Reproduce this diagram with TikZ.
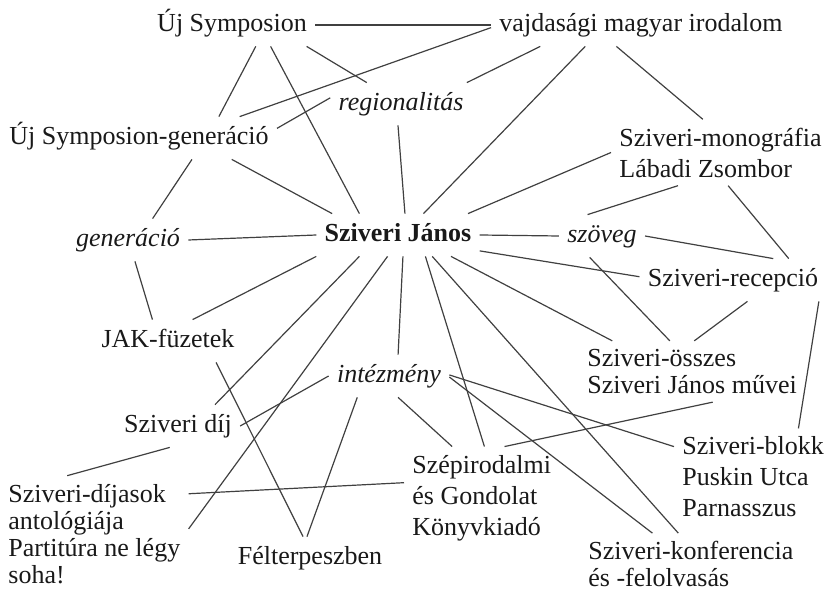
\documentclass[tikz,border=0pt]{standalone}
\usepackage{fontspec}
\setmainfont{Liberation Serif}

\begin{document}
\begin{tikzpicture}[x=0.5pt, y=-0.5pt,
  every node/.style={inner sep=4pt, text=black!90,
                     font=\fontsize{13}{15.5}\selectfont},
  term/.style={text height=10pt, text depth=3pt},
  topic/.style={term, font=\fontsize{13}{15.5}\selectfont\itshape},
  hub/.style={term, font=\fontsize{13}{15.5}\selectfont\bfseries},
  block/.style={align=left, anchor=west},
  tight/.style={block, font=\fontsize{13}{13.5}\selectfont},
  link/.style={black!75, line width=0.6pt}]
\useasboundingbox (0,0) rectangle (825,592);

\node[term] (ujs) at (232,25) {Új Symposion};
\node[term] (vmi) at (641,25) {vajdasági magyar irodalom};
\node[topic] (reg) at (401,104) {regionalitás};
\node[term] (ujsg) at (139,138) {Új Symposion-generáció};
\node[block] (mono) at (611,152.5) {Sziveri-monográfia\\Lábadi Zsombor};
\node[hub] (szj) at (398,235) {Sziveri János};
\node[topic] (gen) at (128,240) {generáció};
\node[topic] (szov) at (602,236) {szöveg};
\node[term] (rec) at (733,280) {Sziveri-recepció};
\node[term] (jak) at (168,341) {JAK-füzetek};
\node[tight] (ossz) at (579,371.5) {Sziveri-összes\\Sziveri János művei};
\node[topic] (int) at (389,376) {intézmény};
\node[term] (dij) at (178,426) {Sziveri díj};
\node[block] (blokk) at (674,477) {Sziveri-blokk\\Puskin Utca\\Parnasszus};
\node[block] (szep) at (404,497.8) {Szépirodalmi\\és Gondolat\\Könyvkiadó};
\node[tight] (dijas) at (0,533.8) {Sziveri-díjasok\\antológiája\\Partitúra ne légy\\soha!};
\node[term] (felt) at (310,558) {Félterpeszben};
\node[tight] (konf) at (580,564.3) {Sziveri-konferencia\\és -felolvasás};

% top row
\draw[link] (ujs.east) -- (vmi.west);
\draw[link] (ujs.-16) -- (reg.148);
\draw[link] (ujs.-42) -- (ujsg.15);
\draw[link] (ujs.-29) -- (szj.151);
\draw[link] (vmi.181) -- (ujsg.12);
\draw[link] (vmi.192) -- (reg.18);
\draw[link] (vmi.201) -- (szj.40);
\draw[link] (vmi.221) -- (mono.118);
\draw[link] (reg.175) -- (ujsg.4);
\draw[link] (reg.262) -- (szj.72);
\draw[link] (ujsg.-13) -- (szj.162);
\draw[link] (ujsg.-22) -- (gen.41);

% middle
\draw[link] (gen.east) -- (szj.west);
\draw[link] (gen.-72) -- (jak.126);
\draw[link] (szj.17) -- (mono.west);
\draw[link] (szj.east) -- (szov.west);
\draw[link] (szov.124) -- (mono.218);
\draw[link] (szov.east) -- (rec.28);
\draw[link] (mono.-77) -- (rec.21);
\draw[link] (szj.-11) -- (rec.178);
\draw[link] (szov.240) -- (ossz.126);
\draw[link] (rec.-56) -- (ossz.86);
\draw[link] (rec.-14) -- (blokk.47);

% from Sziveri János downwards
\draw[link] (szj.-22) -- (ossz.159);
\draw[link] (szj.-77) -- (int.67);
\draw[link] (szj.-38) -- (szep.87);
\draw[link] (szj.-32) -- (konf.112);
\draw[link] (szj.244) -- (dijas.3);
\draw[link] (szj.209) -- (dij.30);
\draw[link] (szj.south west) -- (jak.41);

% bottom
\draw[link] (jak.-24) -- (felt.108);
\draw[link] (int.west) -- (dij.east);
\draw[link] (int.214) -- (felt.98);
\draw[link] (int.-67) -- (szep.120);
\draw[link] (int.-1) -- (konf.141);
\draw[link] (int.1) -- (blokk.159);
\draw[link] (szep.66) -- (ossz.-56);
\draw[link] (dij.249) -- (dijas.115);
\draw[link] (dijas.23) -- (szep.169);
\end{tikzpicture}
\end{document}
